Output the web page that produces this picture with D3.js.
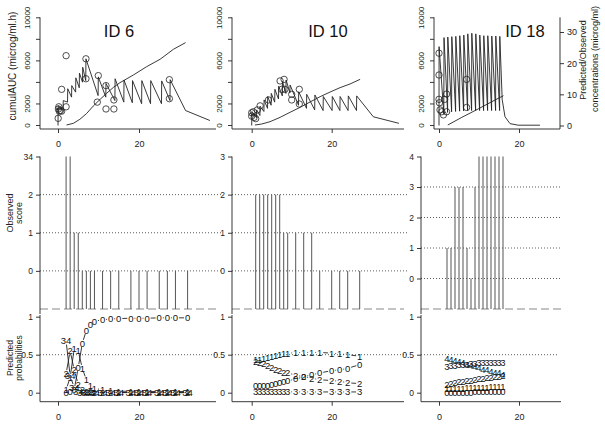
<!DOCTYPE html>
<html><head><meta charset="utf-8">
<script src="https://cdn.jsdelivr.net/npm/d3@7"></script>
<style>body{margin:0;background:#fff}svg{display:block}</style>
</head><body>
<svg id="c" width="605" height="426"></svg>
<script>
// ================= DATA =================
// --- ID 6 ---
const id6AucT = [2.1, 3.8, 5.4, 7.1, 8.7, 10.4, 12.0, 13.7, 15.3, 18.6, 21.9, 25.2, 28.5, 31.5];
const id6Auc  = [0, 155, 530, 1080, 1760, 2380, 2940, 3500, 3930, 4640, 5420, 6100, 7030, 7650];
const id6ConcT = [0,0.05,1.25,1.3,2.35,2.4,3.35,3.4,4.35,4.4,5.25,5.3,6.05,6.1,6.85,6.9,9.9,9.95,11.8,11.85,14.05,14.1,16.25,16.3,18.35,18.4,20.65,20.7,22.85,22.9,25.55,25.6,27.65,27.7,31.5,37.5];
const id6Conc  = [0,6.4,4.8,8.0,7.5,11.8,9.1,12.8,10.7,15.3,12.1,16.8,13.9,18.7,14.4,21.4,9.6,15.6,9.1,13.5,8.0,15.0,7.5,14.6,7.3,14.4,7.0,14.4,7.0,14.4,7.0,14.3,8.0,14.7,4.8,1.6];
const id6ObsT = [0.05, 0.1, 0.3, 0.6, 0.9, 0.2, 0.9, 2.0, 2.0, 6.9, 6.9, 9.95, 9.7, 11.85, 11.85, 13.8, 13.8, 27.5, 27.5];
const id6ObsC = [2.3, 5.3, 4.6, 4.8, 4.6, 6.0, 11.6, 22.4, 6.0, 21.4, 15.0, 16.0, 7.5, 12.8, 5.3, 5.3, 8.2, 14.7, 8.6];
const id6ScoreT = [2,3,4,5,6,7,8,9,11,13,15,18,20,22,25,27,29,32];
const id6Score  = [3,3,1,1,0,0,0,0,0,0,0,0,0,0,0,0,0,0];
const id6P0  = [0.00,0.01,0.04,0.33,0.65,0.82,0.90,0.94,0.96,0.97,0.975,0.98,0.98,0.98,0.985,0.985,0.985,0.985];
const id6P1  = [0.04,0.20,0.58,0.55,0.32,0.17,0.10,0.06,0.035,0.025,0.02,0.018,0.017,0.017,0.015,0.015,0.015,0.015];
const id6P2  = [0.25,0.55,0.30,0.11,0.04,0.02,0.012,0.008,0.005,0.004,0.003,0.002,0.002,0.002,0.001,0.001,0.001,0.001];
const id6P34 = [0.68,0.22,0.07,0.02,0.008,0.004,0.002,0.001,0.001,0.001,0.001,0.001,0.001,0.001,0.001,0.001,0.001,0.001];

// --- ID 10 ---
const id10AucT = [0.8, 2.5, 4.6, 7.1, 9.6, 12.1, 14.6, 17.1, 19.6, 22.1, 24.6, 27.1];
const id10Auc  = [0, 90, 310, 710, 1180, 1640, 2140, 2630, 3060, 3470, 3810, 4240];
const id10ConcT = [0,0.05,1.2,1.25,2.05,2.1,3.05,3.1,3.95,4.0,4.85,4.9,5.75,5.8,6.7,6.75,7.65,7.7,8.55,8.6,9.55,9.6,11.7,11.75,13.7,13.75,15.75,15.8,17.85,17.9,20.1,20.15,22.05,22.1,24.1,24.15,26.2,26.25,30.4,36.8];
const id10Conc  = [0,4.5,2.5,5.0,3.2,6.2,4.5,8.2,5.5,9.3,6.5,10.3,7.5,11.6,8.5,12.6,9.5,14.1,10.3,14.6,10.5,13.0,6.5,10.8,5.5,10.0,5.0,9.8,4.8,9.3,4.8,9.3,4.8,9.3,4.8,9.5,4.8,9.5,2.8,0.7];
const id10ObsT = [0, 0, 0.4, 0.6, 1.0, 1.4, 2.1, 4.2, 7.1, 8.1, 7.5, 8.3, 10.0, 10.0, 11.9, 11.9];
const id10ObsC = [4.1, 3.0, 4.4, 2.6, 2.2, 5.0, 6.3, 8.2, 14.3, 14.8, 11.6, 11.6, 10.0, 8.2, 11.6, 6.9];
const id10ScoreT = [1,2,3,4,5,6,7,8,9,11,13,15,17,20,22,24,27];
const id10Score  = [2,2,2,2,2,2,2,1,1,1,1,1,0,0,0,0,0];
const id10P0 = [0.09,0.09,0.095,0.10,0.105,0.115,0.13,0.14,0.155,0.18,0.21,0.235,0.26,0.29,0.30,0.32,0.37];
const id10P1 = [0.43,0.44,0.45,0.46,0.475,0.49,0.50,0.51,0.52,0.525,0.53,0.53,0.53,0.52,0.51,0.50,0.48];
const id10P2 = [0.41,0.40,0.38,0.36,0.33,0.31,0.29,0.27,0.26,0.23,0.21,0.19,0.17,0.16,0.15,0.13,0.12];
const id10P3 = [0.015,0.015,0.014,0.014,0.013,0.013,0.012,0.012,0.012,0.011,0.011,0.01,0.01,0.01,0.01,0.01,0.01];

// --- ID 18 ---
const id18AucT = [2.2, 5.7, 9.8, 14.0, 16.1];
const id18Auc  = [0, 710, 1490, 2320, 2720];
const id18ConcT = [0,0.02,1.2,1.25,2.15,2.2,3.15,3.2,4.15,4.2,5.15,5.2,6.15,6.2,7.15,7.2,8.15,8.2,9.15,9.2,10.15,10.2,11.15,11.2,12.15,12.2,13.15,13.2,14.15,14.2,15.15,15.2,15.8,16.5,17.75,19.8,25.25];
const id18Conc  = [0,25.3,3.8,28.2,4.2,28.4,4.4,28.5,4.5,28.6,4.6,28.8,4.7,29.0,4.8,29.4,4.8,29.6,4.8,29.4,4.8,29.0,4.8,28.8,4.8,28.8,4.8,28.7,4.8,28.7,4.8,28.6,8.3,2.8,0.6,0.1,0.1];
const id18ObsT = [0, 0, 0, 0.1, 0.25, 0.7, 1.1, 1.4, 1.9, 1.9, 6.9, 6.9];
const id18ObsC = [23.2, 16.2, 8.4, 7.3, 5.0, 4.4, 3.4, 8.4, 10.1, 4.4, 14.8, 5.8];
const id18ScoreT = [2,3,4,5,6,7,8,9,10,11,12,13,14,15,16];
const id18Score  = [1,1,3,3,3,1,0,3,4,4,4,4,4,4,4];
const id18P0 = [0.005,0.005,0.006,0.006,0.007,0.008,0.008,0.009,0.01,0.01,0.011,0.012,0.013,0.014,0.015];
const id18P1 = [0.05,0.052,0.055,0.057,0.06,0.062,0.064,0.066,0.068,0.07,0.072,0.074,0.076,0.078,0.08];
const id18P2 = [0.11,0.12,0.13,0.14,0.15,0.155,0.16,0.17,0.18,0.19,0.195,0.20,0.21,0.215,0.22];
const id18P3 = [0.35,0.355,0.36,0.365,0.37,0.375,0.38,0.385,0.39,0.39,0.395,0.40,0.40,0.40,0.40];
const id18P4 = [0.45,0.44,0.42,0.41,0.39,0.37,0.36,0.34,0.33,0.31,0.30,0.28,0.27,0.26,0.245];

// --- tick labels ---
const timeTicks = [0, 20];
const aucTicks = [0, 2000, 4000, 6000, 8000, 10000];
const aucLabels = ["0", "2000", "", "6000", "", "10000"];
const concTicks = [0, 10, 20, 30];
const probTicks = [1, 0.5, 0];
const probLabels = ["1", "0.5", "0"];
const titles = ["ID 6", "ID 10", "ID 18"];

// ================= BUILD =================
const panels = [
  {aucT:id6AucT, auc:id6Auc, concT:id6ConcT, conc:id6Conc, obsT:id6ObsT, obsC:id6ObsC,
   scoreT:id6ScoreT, score:id6Score, scoreTicks:[3,2,1,0], scoreLabels:["34","2","1","0"], scoreMax:3, grid:[2,1,0],
   probs:[["0",id6P0],["1",id6P1],["2",id6P2],["34",id6P34]]},
  {aucT:id10AucT, auc:id10Auc, concT:id10ConcT, conc:id10Conc, obsT:id10ObsT, obsC:id10ObsC,
   scoreT:id10ScoreT, score:id10Score, scoreTicks:[3,2,1,0], scoreLabels:["3","2","1","0"], scoreMax:3, grid:[2,1,0],
   probs:[["0",id10P0],["1",id10P1],["2",id10P2],["3",id10P3]]},
  {aucT:id18AucT, auc:id18Auc, concT:id18ConcT, conc:id18Conc, obsT:id18ObsT, obsC:id18ObsC,
   scoreT:id18ScoreT, score:id18Score, scoreTicks:[4,3,2,1,0], scoreLabels:["4","3","2","1","0"], scoreMax:4, grid:[3,2,1,0],
   probs:[["0",id18P0],["1",id18P1],["2",id18P2],["3",id18P3],["4",id18P4]]}
];

// layout (pixels)
const L = {
  xZero: [58, 251.7, 439], xTwenty: [139, 331.7, 519],
  left: [40, 232, 421], topLeft: [40, 232, 434], right: [216, 404, 561],
  dotRight: [221, 409, 561], titleX: [119, 328, 525],
  topBottom: 129, topTop: 17.3, midTop: 156, midBottom: 314, botTop: 315, botBottom: 401.7
};

const FONT = "Liberation Sans, Arial, Helvetica, sans-serif";
const INK = "#222";
const svg = d3.select("#c");

const yAuc = d3.scaleLinear().domain([0, 10000]).range([125, 17.3]);
const yConc = d3.scaleLinear().domain([0, 30]).range([125.5, 32]);
const yProb = d3.scaleLinear().domain([0, 1]).range([392.7, 316.7]);

function styleAxis(g, size) {
  g.attr("font-family", FONT).attr("font-size", size);
  g.select(".domain").remove();
  g.selectAll("line").attr("stroke", INK).attr("stroke-width", 0.9);
  g.selectAll("text").attr("fill", INK);
}
function vline(x, y1, y2) {
  svg.append("line").attr("x1", x).attr("x2", x).attr("y1", y1).attr("y2", y2)
    .attr("stroke", INK).attr("stroke-width", 0.9);
}
function hline(y, x1, x2, dash, color, w) {
  svg.append("line").attr("x1", x1).attr("x2", x2).attr("y1", y).attr("y2", y)
    .attr("stroke", color || INK).attr("stroke-width", w || 0.9)
    .attr("stroke-dasharray", dash || null);
}

panels.forEach((p, i) => {
  const x = d3.scaleLinear().domain([0, 20]).range([L.xZero[i], L.xTwenty[i]]);

  // ---------- TOP: PK panel ----------
  const gT = svg.append("g");
  const lineGen = (ys) => d3.line().x(d => x(d[0])).y(d => ys(d[1]));
  gT.append("path").datum(p.aucT.map((t, k) => [t, p.auc[k]]))
    .attr("d", lineGen(yAuc)).attr("fill", "none").attr("stroke", INK).attr("stroke-width", 0.9);
  gT.append("path").datum(p.concT.map((t, k) => [t, p.conc[k]]))
    .attr("d", lineGen(yConc)).attr("fill", "none").attr("stroke", INK).attr("stroke-width", 0.9);
  gT.selectAll("circle").data(p.obsT.map((t, k) => [t, p.obsC[k]])).join("circle")
    .attr("cx", d => x(d[0])).attr("cy", d => yConc(d[1])).attr("r", 3.2)
    .attr("fill", "none").attr("stroke", INK).attr("stroke-width", 0.8);

  // box lines
  vline(L.topLeft[i], L.topTop, L.topBottom);
  hline(L.topBottom, L.topLeft[i], i === 2 ? 560 : L.right[i]);
  // y axis AUC
  const ga = svg.append("g").attr("transform", `translate(${L.topLeft[i]},0)`)
    .call(d3.axisLeft(yAuc).tickValues(aucTicks).tickSize(4).tickSizeOuter(0).tickFormat((d, k) => aucLabels[k]));
  styleAxis(ga, 8);
  ga.selectAll("text").attr("transform", "rotate(-90)").attr("x", 0).attr("y", -13)
    .attr("dy", "0.35em").attr("text-anchor", "middle");
  // x axis
  const gx = svg.append("g").attr("transform", `translate(0,${L.topBottom})`)
    .call(d3.axisBottom(x).tickValues(timeTicks).tickSize(4).tickSizeOuter(0));
  styleAxis(gx, 9);
  gx.selectAll("text").attr("y", 18).attr("dy", 0);
  // title
  svg.append("text").attr("x", L.titleX[i]).attr("y", 37).attr("text-anchor", "middle")
    .attr("font-family", FONT).attr("font-size", 16.5).attr("fill", "#111").text(titles[i]);

  if (i === 2) {
    vline(560, L.topTop, L.topBottom);
    const gr = svg.append("g").attr("transform", "translate(560,0)")
      .call(d3.axisRight(yConc).tickValues(concTicks).tickSize(4).tickSizeOuter(0).tickPadding(3));
    styleAxis(gr, 9);
  }

  // ---------- MIDDLE: observed score ----------
  const yS = d3.scaleLinear().domain([-1, p.scoreMax]).range([309, 156.5]);
  p.grid.forEach(v => hline(yS(v), L.left[i], L.dotRight[i], "1,2", "#333", 0.8));
  hline(yS(-1), L.left[i], L.right[i], "8,4", "#888", 1.1);
  svg.append("g").selectAll("line").data(p.scoreT.map((t, k) => [t, p.score[k]])).join("line")
    .attr("x1", d => x(d[0])).attr("x2", d => x(d[0]))
    .attr("y1", yS(-1)).attr("y2", d => yS(d[1]))
    .attr("stroke", "#555").attr("stroke-width", 1);
  vline(L.left[i], yS(p.scoreMax), L.midBottom);
  const gs = svg.append("g").attr("transform", `translate(${L.left[i]},0)`)
    .call(d3.axisLeft(yS).tickValues(p.scoreTicks).tickSize(4).tickSizeOuter(0).tickPadding(3)
      .tickFormat((d, k) => p.scoreLabels[k]));
  styleAxis(gs, 8.5);

  // ---------- BOTTOM: predicted probabilities ----------
  hline(yProb(0.5), L.left[i], L.dotRight[i] - 2, "1,2", "#333", 0.8);
  const gb = svg.append("g");
  const GAP = 3.6;
  p.probs.forEach(([lab, vals]) => {
    const pts = p.scoreT.map((t, k) => [x(t), yProb(vals[k])]);
    for (let k = 0; k < pts.length - 1; k++) {
      const [x1, y1] = pts[k], [x2, y2] = pts[k + 1];
      const dx = x2 - x1, dy = y2 - y1, dd = Math.hypot(dx, dy);
      if (dd > 2 * GAP) {
        const ux = dx / dd, uy = dy / dd;
        gb.append("line").attr("x1", x1 + ux * GAP).attr("y1", y1 + uy * GAP)
          .attr("x2", x2 - ux * GAP).attr("y2", y2 - uy * GAP)
          .attr("stroke", INK).attr("stroke-width", 0.9);
      }
    }
    gb.append("g").selectAll("text").data(pts).join("text")
      .attr("x", d => d[0]).attr("y", d => d[1]).attr("dy", "0.36em")
      .attr("text-anchor", "middle").attr("font-family", FONT).attr("font-size", 9.5)
      .attr("fill", "#111").text(lab);
  });
  vline(L.left[i], L.botTop, L.botBottom);
  hline(L.botBottom, L.left[i], L.right[i]);
  const gp = svg.append("g").attr("transform", `translate(${L.left[i]},0)`)
    .call(d3.axisLeft(yProb).tickValues(probTicks).tickSize(4).tickSizeOuter(0).tickPadding(3)
      .tickFormat((d, k) => probLabels[k]));
  styleAxis(gp, 8.5);
  const gbx = svg.append("g").attr("transform", `translate(0,${L.botBottom})`)
    .call(d3.axisBottom(x).tickValues(timeTicks).tickSize(4).tickSizeOuter(0));
  styleAxis(gbx, 9);
  gbx.selectAll("text").attr("y", 18).attr("dy", 0);
});

// ---------- axis titles ----------
function vtext(xp, yp, txt, size) {
  svg.append("text").attr("transform", `translate(${xp},${yp}) rotate(-90)`)
    .attr("dy", "0.35em").attr("text-anchor", "middle")
    .attr("font-family", FONT).attr("font-size", size).attr("fill", INK).text(txt);
}
vtext(12, 66, "cumulAUC (microg/ml.h)", 10);
vtext(10, 213, "Observed", 9);
vtext(19, 213, "score", 9);
vtext(10, 358, "Predicted", 8.5);
vtext(19, 358, "probabilities", 8.5);
vtext(583, 60, "Predicted/Observed", 9);
vtext(595, 59, "concentrations (microg/ml)", 9);
</script>
</body></html>
